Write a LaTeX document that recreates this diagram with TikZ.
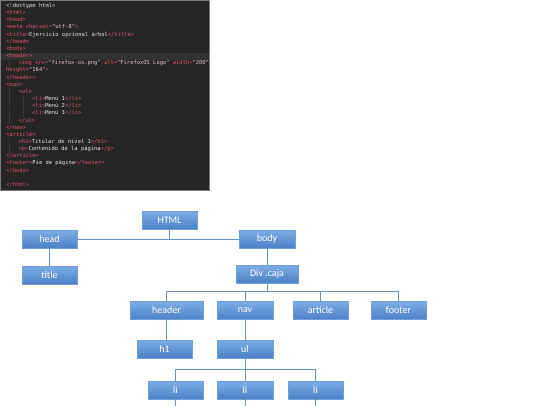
\documentclass[tikz,border=0pt]{standalone}
\usepackage{fontspec}
\setmainfont{Carlito}
\setmonofont{DejaVu Sans Mono}
\usetikzlibrary{shadows}
\definecolor{codebg}{HTML}{252526}
\definecolor{codeedge}{HTML}{7C7C7C}
\definecolor{linehl}{HTML}{323232}
\definecolor{guide}{HTML}{3E3E3E}
\definecolor{tagc}{HTML}{D9566A}
\definecolor{strc}{HTML}{EEC4C6}
\definecolor{txtc}{HTML}{E6E6E6}
\definecolor{boxtop}{HTML}{7CAEE4}
\definecolor{boxbot}{HTML}{4C80C6}
\definecolor{boxedge}{HTML}{6F9FD8}
\definecolor{conn}{HTML}{6293C9}
\newcommand\tg[1]{\textcolor{tagc}{#1}}
\newcommand\st[1]{\textcolor{strc}{#1}}
\newcommand\tx[1]{\textcolor{txtc}{#1}}
\tikzset{
  codeline/.style={anchor=west, inner sep=0pt, text height=3.9pt, text depth=1.1pt,
    font=\ttfamily\fontsize{5.45}{6}\selectfont},
  tbox/.style={rectangle, minimum height=18pt, inner sep=0pt, top color=boxtop,
    bottom color=boxbot, draw=boxedge, line width=0.3pt, text=white,
    font=\fontsize{10}{12}\selectfont,
    drop shadow={shadow xshift=0.7pt, shadow yshift=-0.9pt, opacity=0.25}},
  conn/.style={draw=conn, line width=0.8pt},
  guideline/.style={draw=guide, line width=0.4pt, densely dotted}
}
\begin{document}
\begin{tikzpicture}[x=1pt,y=-1pt]
\useasboundingbox (0,0) rectangle (540,405);
\fill[white] (0,0) rectangle (540,405);
% code screenshot
\fill[codebg] (0,0) rectangle (209.5,190.5);
\fill[linehl] (1,52.6) rectangle (208.5,59.6);
\draw[codeedge, line width=1pt] (0.5,0.5) rectangle (209,190);
\draw[guideline] (9.5,60) -- (9.5,66.5);
\draw[guideline] (9.5,88) -- (9.5,124);
\draw[guideline] (23.5,95) -- (23.5,117);
\draw[guideline] (9.5,138) -- (9.5,153);
\node[codeline] (l1) at (6,6.0) {\tx{<!doctype html>}};
\node[codeline] (l2) at (6,13.2) {\tg{<html>}};
\node[codeline] (l3) at (6,20.3) {\tg{<head>}};
\node[codeline] (l4) at (6,27.5) {\tg{<meta} \tg{charset=}\st{"utf-8"}\tg{>}};
\node[codeline] (l5) at (6,34.6) {\tg{<title>}\tx{Ejercicio opcional árbol}\tg{</title>}};
\node[codeline] (l6) at (6,41.8) {\tg{</head>}};
\node[codeline] (l7) at (6,49.0) {\tg{<body>}};
\node[codeline] (l8) at (6,56.1) {\tg{<header>}};
\node[codeline] (l9) at (18.5,63.3) {\tg{<img} \tg{src=}\st{"firefox-os.png"} \tg{alt=}\st{"FirefoxOS Logo"} \tg{width=}\st{"200"}};
\node[codeline] (l10) at (6,70.4) {\tg{height=}\st{"164"}\tg{>}};
\node[codeline] (l11) at (6,77.6) {\tg{</header>}};
\node[codeline] (l12) at (6,84.8) {\tg{<nav>}};
\node[codeline] (l13) at (18.5,91.9) {\tg{<ul>}};
\node[codeline] (l14) at (32,99.1) {\tg{<li>}\tx{Menú 1}\tg{</li>}};
\node[codeline] (l15) at (32,106.2) {\tg{<li>}\tx{Menú 2}\tg{</li>}};
\node[codeline] (l16) at (32,113.4) {\tg{<li>}\tx{Menú 3}\tg{</li>}};
\node[codeline] (l17) at (18.5,120.6) {\tg{</ul>}};
\node[codeline] (l18) at (6,127.7) {\tg{</nav>}};
\node[codeline] (l19) at (6,134.9) {\tg{<article>}};
\node[codeline] (l20) at (18.5,142.0) {\tg{<h1>}\tx{Titular de nivel 1}\tg{</h1>}};
\node[codeline] (l21) at (18.5,149.2) {\tg{<p>}\tx{Contenido de la página}\tg{</p>}};
\node[codeline] (l22) at (6,156.4) {\tg{</article>}};
\node[codeline] (l23) at (6,163.5) {\tg{<footer>}\tx{Pie de página}\tg{</footer>}};
\node[codeline] (l24) at (6,170.7) {\tg{</body>}};
\node[codeline] (l26) at (6,185.0) {\tg{</html>}};
% tree nodes
\node[tbox, minimum width=55pt] (html) at (169.5,220) {HTML};
\node[tbox, minimum width=55pt] (head) at (49.5,239) {head};
\node[tbox, minimum width=56pt] (body) at (267,239) {body};
\node[tbox, minimum width=55pt] (title) at (49.5,275) {title};
\node[tbox, minimum width=62pt] (div) at (267,274) {Div .caja};
\node[tbox, minimum width=73pt] (header) at (166.5,310.5) {header};
\node[tbox, minimum width=56pt] (nav) at (245,310.5) {nav};
\node[tbox, minimum width=55pt] (article) at (320.5,310.5) {article};
\node[tbox, minimum width=55pt] (footer) at (398.5,310.5) {footer};
\node[tbox, minimum width=55pt] (h1) at (164.5,349) {h1};
\node[tbox, minimum width=56pt] (ul) at (245,349) {ul};
\node[tbox, minimum width=55pt] (li1) at (175.5,390) {li};
\node[tbox, minimum width=56pt] (li2) at (245,390) {li};
\node[tbox, minimum width=55pt] (li3) at (315.5,390) {li};
% connectors
\coordinate (dj) at (267,291);
\coordinate (uj) at (245,369);
\coordinate (bot) at (0,405.5);
\draw[conn] (html.south) -- (html.south |- head.east);
\draw[conn] (head.east) -- (body.west);
\draw[conn] (head.south) -- (title.north);
\draw[conn] (body.south) -- (div.north);
\draw[conn] (div.south) -- (dj);
\draw[conn] (header.north |- dj) -- (footer.north |- dj);
\draw[conn] (header.north |- dj) -- (header.north);
\draw[conn] (nav.north |- dj) -- (nav.north);
\draw[conn] (article.north |- dj) -- (article.north);
\draw[conn] (footer.north |- dj) -- (footer.north);
\draw[conn] (header.south) -- (header.south |- h1.north);
\draw[conn] (nav.south) -- (ul.north);
\draw[conn] (ul.south) -- (uj);
\draw[conn] (li1.north |- uj) -- (li3.north |- uj);
\draw[conn] (li1.north |- uj) -- (li1.north);
\draw[conn] (li3.north |- uj) -- (li3.north);
\draw[conn] (uj) -- (li2.north);
\draw[conn] (li1.south) -- (li1.south |- bot);
\draw[conn] (li2.south) -- (li2.south |- bot);
\draw[conn] (li3.south) -- (li3.south |- bot);
\end{tikzpicture}
\end{document}
